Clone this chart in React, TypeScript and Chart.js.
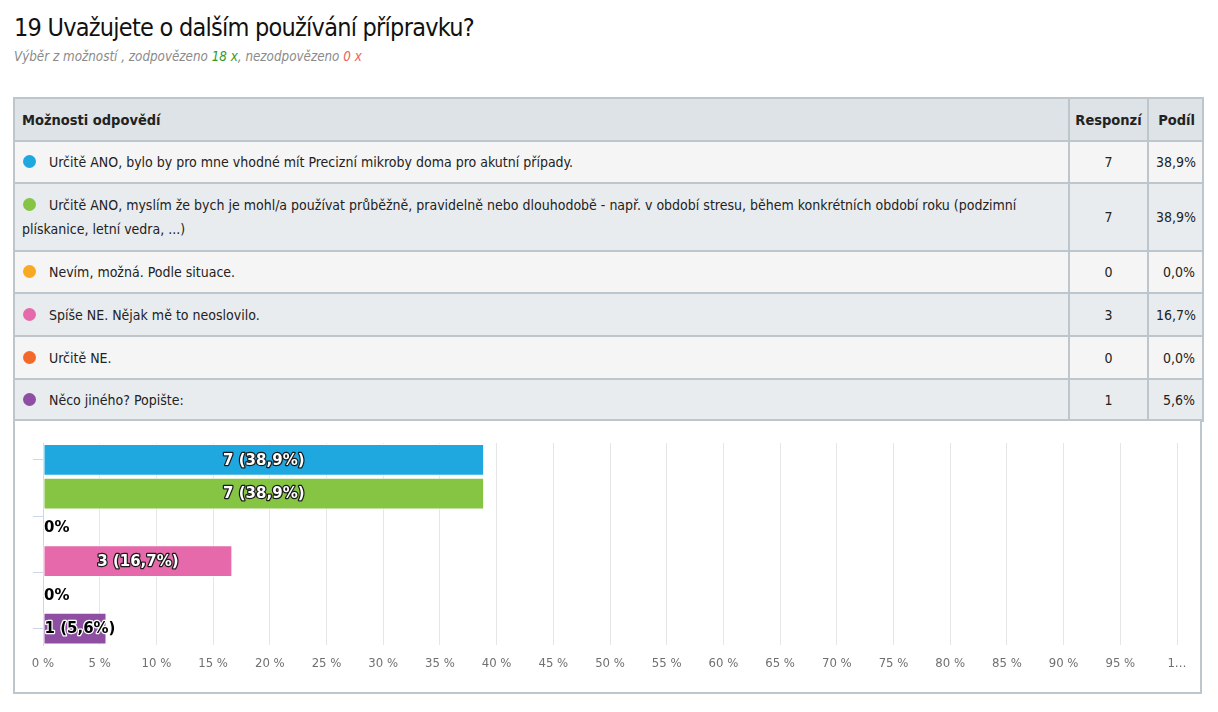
import React, { useEffect, useRef } from 'react';
import { Chart, registerables } from 'chart.js';

Chart.register(...registerables);

const TITLE = '19 Uvažujete o dalším používání přípravku?';
const SUB_PREFIX = 'Výběr z možností , zodpovězeno ';
const SUB_ANSWERED = '18 x';
const SUB_MIDDLE = ', nezodpovězeno ';
const SUB_UNANSWERED = '0 x';

const HEAD_OPTIONS = 'Možnosti odpovědí';
const HEAD_COUNT = 'Responzí';
const HEAD_SHARE = 'Podíl';

const categories = [
  'Určitě ANO, bylo by pro mne vhodné mít Precizní mikroby doma pro akutní případy.',
  'Určitě ANO, myslím že bych je mohl/a používat průběžně, pravidelně nebo dlouhodobě - např. v období stresu, během konkrétních období roku (podzimní plískanice, letní vedra, ...)',
  'Nevím, možná. Podle situace.',
  'Spíše NE. Nějak mě to neoslovilo.',
  'Určitě NE.',
  'Něco jiného? Popište:',
];
const counts = [7, 7, 0, 3, 0, 1];
const shares = [38.9, 38.9, 0, 16.7, 0, 5.6];
const shareLabels = ['38,9%', '38,9%', '0,0%', '16,7%', '0,0%', '5,6%'];
const colors = ['#1fa8e0', '#86c443', '#f8a822', '#e66aab', '#f26a2b', '#8e4ea1'];
const xTickValues = [0, 5, 10, 15, 20, 25, 30, 35, 40, 45, 50, 55, 60, 65, 70, 75, 80, 85, 90, 95, 100];
const xTickLabels = ['0 %', '5 %', '10 %', '15 %', '20 %', '25 %', '30 %', '35 %', '40 %', '45 %', '50 %', '55 %', '60 %', '65 %', '70 %', '75 %', '80 %', '85 %', '90 %', '95 %', '1…'];
const catTickValues = [0, 2.5, 5];

const FONT = '"DejaVu Sans Condensed", "Liberation Sans Narrow", sans-serif';
const BORDER = '2px solid #bcc6cc';
const CANVAS_W = 1185;
const CANVAS_H = 270;

const barLabels = {
  id: 'barLabels',
  afterDatasetsDraw(chart: any) {
    const ctx = chart.ctx;
    const meta = chart.getDatasetMeta(0);
    ctx.save();
    ctx.font = 'bold 15px "DejaVu Sans", sans-serif';
    ctx.textBaseline = 'middle';
    ctx.lineJoin = 'round';
    meta.data.forEach((bar: any, i: number) => {
      const text = counts[i] === 0 ? '0%' : `${counts[i]} (${shareLabels[i]})`;
      const w = ctx.measureText(text).width;
      const left = Math.min(bar.base, bar.x);
      const barW = Math.abs(bar.x - bar.base);
      let x: number;
      let fill: string;
      let stroke: string;
      if (w + 10 < barW) {
        ctx.textAlign = 'center';
        x = left + barW / 2;
        fill = '#ffffff';
        stroke = '#1a1a1a';
      } else {
        ctx.textAlign = 'left';
        x = left + 1;
        fill = '#000000';
        stroke = '#ffffff';
      }
      ctx.lineWidth = 2.5;
      ctx.strokeStyle = stroke;
      ctx.strokeText(text, x, bar.y + 1);
      ctx.fillStyle = fill;
      ctx.fillText(text, x, bar.y + 1);
    });
    ctx.restore();
  },
};

function BarChart() {
  const ref = useRef<HTMLCanvasElement | null>(null);
  useEffect(() => {
    if (!ref.current) return;
    const chart = new Chart(ref.current, {
      type: 'bar',
      data: {
        labels: categories,
        datasets: [
          {
            data: shares,
            backgroundColor: colors,
            borderColor: '#ffffff',
            borderWidth: 1,
            borderSkipped: false,
            categoryPercentage: 1,
            barPercentage: 0.94,
          },
        ],
      },
      options: {
        indexAxis: 'y',
        animation: false,
        responsive: false,
        maintainAspectRatio: false,
        devicePixelRatio: 1,
        layout: { padding: { left: 18, right: 23, top: 22, bottom: 10 } },
        plugins: { legend: { display: false }, tooltip: { enabled: false } },
        scales: {
          x: {
            type: 'linear',
            min: 0,
            max: 100,
            afterBuildTicks: (axis: any) => {
              axis.ticks = xTickValues.map((v) => ({ value: v }));
            },
            ticks: {
              autoSkip: false,
              maxRotation: 0,
              padding: 10,
              color: '#707070',
              font: { family: '"DejaVu Sans Condensed", sans-serif', size: 13 },
              callback: (v: any) => xTickLabels[xTickValues.indexOf(Number(v))] ?? '',
            },
            grid: { color: '#e6e6e6', drawTicks: false, lineWidth: 1 },
            border: { display: false },
          },
          y: {
            type: 'category',
            display: false,
          },
          y2: {
            type: 'linear',
            position: 'left',
            min: -0.5,
            max: 5.5,
            reverse: true,
            afterBuildTicks: (axis: any) => {
              axis.ticks = catTickValues.map((v) => ({ value: v }));
            },
            ticks: { display: false },
            grid: { drawOnChartArea: false, drawTicks: true, tickLength: 10, color: '#ccd6eb' },
            border: { display: true, color: '#ccd6eb' },
          },
        },
      },
      plugins: [barLabels],
    } as any);
    return () => chart.destroy();
  }, []);
  return <canvas ref={ref} width={CANVAS_W} height={CANVAS_H} style={{ display: 'block', width: CANVAS_W, height: CANVAS_H }} />;
}

export default function App() {
  const rowBgs = ['#f5f5f5', '#e9ecef', '#f5f5f5', '#e9ecef', '#f5f5f5', '#e9ecef'];
  const rowHeights = [42, 68, 42, 43, 43, 42];
  const cellBase: React.CSSProperties = {
    border: BORDER,
    padding: '0 7px',
    fontSize: 14,
    lineHeight: '24px',
    color: '#222',
    fontFamily: FONT,
  };
  return (
    <div style={{ position: 'fixed', left: 0, top: 0, width: 1218, height: 712, background: '#fff', fontFamily: FONT }}>
      <div style={{ position: 'absolute', left: 14, top: 11, fontSize: 25, letterSpacing: -0.75, lineHeight: '34px', color: '#111', whiteSpace: 'nowrap' }}>
        {TITLE}
      </div>
      <div style={{ position: 'absolute', left: 14, top: 48, fontSize: 13.3, lineHeight: '18px', color: '#8a8a8a', fontStyle: 'italic', whiteSpace: 'nowrap' }}>
        {SUB_PREFIX}
        <span style={{ color: '#2e9a2e' }}>{SUB_ANSWERED}</span>
        {SUB_MIDDLE}
        <span style={{ color: '#f0605a' }}>{SUB_UNANSWERED}</span>
      </div>
      <table
        style={{
          position: 'absolute',
          left: 13,
          top: 97,
          width: 1189,
          borderCollapse: 'collapse',
          tableLayout: 'fixed',
        }}
      >
        <colgroup>
          <col style={{ width: 1055 }} />
          <col style={{ width: 79 }} />
          <col style={{ width: 55 }} />
        </colgroup>
        <thead>
          <tr style={{ height: 43, background: '#dde3e7' }}>
            <th style={{ ...cellBase, textAlign: 'left', fontWeight: 700, fontSize: 14.5 }}>{HEAD_OPTIONS}</th>
            <th style={{ ...cellBase, textAlign: 'center', fontWeight: 700, fontSize: 14.5, padding: '0 4px' }}>{HEAD_COUNT}</th>
            <th style={{ ...cellBase, textAlign: 'right', fontWeight: 700, fontSize: 14.5 }}>{HEAD_SHARE}</th>
          </tr>
        </thead>
        <tbody>
          {categories.map((c, i) => (
            <tr key={i} style={{ height: rowHeights[i], background: rowBgs[i] }}>
              <td style={{ ...cellBase, paddingTop: 0, paddingBottom: 0 }}>
                <span
                  style={{
                    display: 'inline-block',
                    width: 13,
                    height: 13,
                    borderRadius: 7,
                    background: colors[i],
                    marginLeft: 1,
                    marginRight: 13,
                    verticalAlign: '-1px',
                  }}
                />
                {c}
              </td>
              <td style={{ ...cellBase, textAlign: 'center' }}>{counts[i]}</td>
              <td style={{ ...cellBase, textAlign: 'right' }}>{shareLabels[i]}</td>
            </tr>
          ))}
        </tbody>
      </table>
      <div
        style={{
          position: 'absolute',
          left: 13,
          top: 419,
          width: 1189,
          height: 275,
          border: BORDER,
          boxSizing: 'border-box',
          background: '#fff',
        }}
      />
      <div style={{ position: 'absolute', left: 15, top: 421, width: CANVAS_W, height: CANVAS_H }}>
        <BarChart />
      </div>
    </div>
  );
}
